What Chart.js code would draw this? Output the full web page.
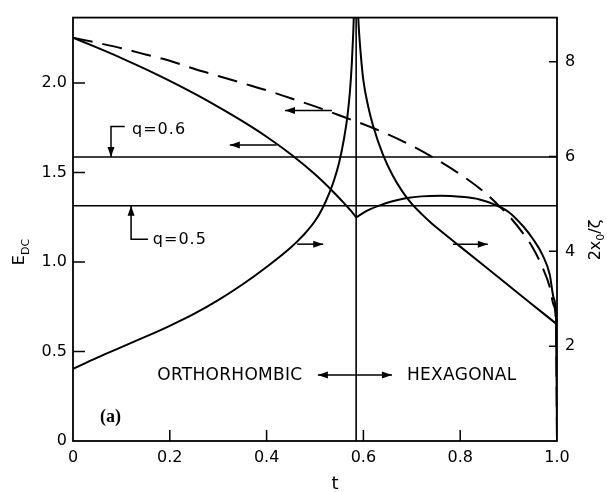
<!DOCTYPE html>
<html><head><meta charset="utf-8">
<script src="https://cdn.jsdelivr.net/npm/chart.js@4.4.1/dist/chart.umd.min.js"></script>
<style>html,body{margin:0;padding:0;background:#fff}#wrap{width:607px;height:492px}</style>
</head><body><div id="wrap"><canvas id="c" width="607" height="492"></canvas></div>
<script>
// ---- data ----
const tOrthE = [0, 0.05, 0.1, 0.15, 0.2, 0.25, 0.3, 0.35, 0.4, 0.45, 0.5, 0.54, 0.56, 0.575, 0.585];
const eOrth  = [2.254, 2.198, 2.14, 2.078, 2.012, 1.942, 1.867, 1.787, 1.70, 1.602, 1.49, 1.386, 1.329, 1.284, 1.25];
const tHexE  = [0.585, 0.61, 0.634, 0.66, 0.69, 0.72, 0.76, 0.8, 0.84, 0.87, 0.9, 0.93, 0.95, 0.97, 0.985, 0.993, 0.998, 1.0];
const eHex   = [1.25, 1.29, 1.317, 1.34, 1.358, 1.367, 1.37, 1.365, 1.35, 1.322, 1.28, 1.2, 1.13, 1.04, 0.93, 0.8, 0.68, 0];
const tDash  = [0, 0.05, 0.1, 0.15, 0.2, 0.25, 0.3, 0.35, 0.4, 0.45, 0.5, 0.55, 0.6, 0.65, 0.7, 0.75, 0.8, 0.85, 0.88, 0.9, 0.93, 0.95, 0.97, 0.985, 0.993, 0.998, 1.0];
const eDash  = [2.254, 2.225, 2.195, 2.16, 2.125, 2.08, 2.04, 2.0, 1.96, 1.915, 1.87, 1.82, 1.77, 1.715, 1.65, 1.575, 1.49, 1.39, 1.315, 1.26, 1.16, 1.08, 0.97, 0.86, 0.76, 0.66, 0];
const tOrthR = [0, 0.05, 0.1, 0.15, 0.2, 0.25, 0.3, 0.35, 0.4, 0.45, 0.475, 0.5, 0.515, 0.53, 0.54, 0.55, 0.56, 0.567, 0.572, 0.576, 0.579, 0.582];
const rOrth  = [1.52, 1.76, 1.98, 2.2, 2.43, 2.68, 2.97, 3.3, 3.67, 4.08, 4.33, 4.64, 4.9, 5.24, 5.52, 5.88, 6.38, 6.85, 7.35, 7.95, 8.6, 9.5];
const tHexR  = [0.587, 0.59, 0.595, 0.6, 0.61, 0.62, 0.64, 0.66, 0.68, 0.7, 0.72, 0.74, 0.76, 0.8, 0.85, 0.9, 0.95, 1.0];
const rHex   = [9.5, 8.8, 8.1, 7.6, 7.05, 6.65, 6.05, 5.61, 5.27, 5.0, 4.79, 4.6, 4.43, 4.1, 3.69, 3.28, 2.87, 2.46];
const tTransition = 0.585;
const qLevels = [1.587, 1.315];
const qLabels = ['q=0.6', 'q=0.5'];
const xTicks = [0, 0.2, 0.4, 0.6, 0.8, 1.0];
const xTickLabels = ['0', '0.2', '0.4', '0.6', '0.8', '1.0'];
const yTicks = [0, 0.5, 1.0, 1.5, 2.0];
const yTickLabels = ['0', '0.5', '1.0', '1.5', '2.0'];
const y2Ticks = [2, 4, 6, 8];
const y2TickLabels = ['2', '4', '6', '8'];
const phaseLabels = ['ORTHORHOMBIC', 'HEXAGONAL'];
const panelLabel = '(a)';
const xTitle = 't';

// ---- helpers ----
const pts = (xs, ys) => xs.map((x, i) => ({x: x, y: ys[i]}));
const FONT = '"DejaVu Sans", sans-serif';
const line = (data, axis, extra) => Object.assign({
  data: data, yAxisID: axis, borderColor: '#000', borderWidth: 2,
  pointRadius: 0, fill: false, cubicInterpolationMode: 'monotone'
}, extra || {});

const datasets = [
  line(pts(tOrthE, eOrth), 'y'),
  line(pts(tHexE, eHex), 'y'),
  line(pts(tDash, eDash), 'y', {borderDash: [20, 10]}),
  line(pts(tOrthR, rOrth), 'y2'),
  line(pts(tHexR, rHex), 'y2'),
  line([{x: tTransition, y: 0}, {x: tTransition, y: 2.366}], 'y', {borderWidth: 1.6, cubicInterpolationMode: 'default', tension: 0}),
  line([{x: 0, y: qLevels[0]}, {x: 1, y: qLevels[0]}], 'y', {borderWidth: 1.6, tension: 0}),
  line([{x: 0, y: qLevels[1]}, {x: 1, y: qLevels[1]}], 'y', {borderWidth: 1.6, tension: 0})
];

// annotation placement (data units)
const notes = {
  arrowsLeft: [
    {t1: 0.421, t2: 0.324, e: 1.654},
    {t1: 0.535, t2: 0.438, e: 1.847}
  ],
  arrowsRight: [
    {t1: 0.463, t2: 0.517, e: 1.10},
    {t1: 0.785, t2: 0.857, e: 1.10}
  ],
  q06: {tv: 0.0785, eTop: 1.757, tH: 0.107, tText: 0.122},
  q05: {tv: 0.120, eBot: 1.127, tH: 0.155, tText: 0.165},
  phase: {e: 0.369, tOrth: 0.174, tHex: 0.69, tA1: 0.506, tA2: 0.659},
  panel: {t: 0.056, e: 0.131}
};

function arrowHead(ctx, x1, y1, x2, y2, len, hw) {
  const a = Math.atan2(y2 - y1, x2 - x1);
  ctx.beginPath();
  ctx.moveTo(x2, y2);
  ctx.lineTo(x2 - len * Math.cos(a) + hw * Math.sin(a), y2 - len * Math.sin(a) - hw * Math.cos(a));
  ctx.lineTo(x2 - len * Math.cos(a) - hw * Math.sin(a), y2 - len * Math.sin(a) + hw * Math.cos(a));
  ctx.closePath();
  ctx.fill();
}
function arrow(ctx, x1, y1, x2, y2) {
  ctx.beginPath(); ctx.moveTo(x1, y1); ctx.lineTo(x2, y2); ctx.stroke();
  arrowHead(ctx, x1, y1, x2, y2, 10, 3.5);
}

const decor = {
  id: 'decor',
  afterDatasetsDraw(chart) {
    const ctx = chart.ctx, a = chart.chartArea;
    const X = chart.scales.x, Y = chart.scales.y, Y2 = chart.scales.y2;
    ctx.save();
    ctx.strokeStyle = '#000'; ctx.fillStyle = '#000';
    // frame
    ctx.lineWidth = 1.8;
    ctx.strokeRect(a.left, a.top, a.right - a.left, a.bottom - a.top);
    // inward ticks
    ctx.lineWidth = 1.5;
    ctx.beginPath();
    yTicks.forEach(v => { if (v > 0) { const p = Y.getPixelForValue(v); ctx.moveTo(a.left, p); ctx.lineTo(a.left + 12, p); } });
    xTicks.forEach(v => { if (v > 0 && v < 1) { const p = X.getPixelForValue(v); ctx.moveTo(p, a.bottom); ctx.lineTo(p, a.bottom - 11); } });
    y2Ticks.forEach(v => { const p = Y2.getPixelForValue(v); ctx.moveTo(a.right - 8, p); ctx.lineTo(a.right, p); });
    ctx.stroke();
    // arrows on curves
    ctx.lineWidth = 1.5;
    notes.arrowsLeft.concat(notes.arrowsRight).forEach(n => {
      const py = Y.getPixelForValue(n.e);
      arrow(ctx, X.getPixelForValue(n.t1), py, X.getPixelForValue(n.t2), py);
    });
    // q brackets
    ctx.font = '16px ' + FONT;
    ctx.textBaseline = 'middle'; ctx.textAlign = 'left';
    if ('letterSpacing' in ctx) ctx.letterSpacing = '1px';
    {
      const q = notes.q06;
      const xv = X.getPixelForValue(q.tv), yt = Y.getPixelForValue(q.eTop), yl = Y.getPixelForValue(qLevels[0]);
      ctx.beginPath(); ctx.moveTo(X.getPixelForValue(q.tH), yt); ctx.lineTo(xv, yt); ctx.lineTo(xv, yl); ctx.stroke();
      arrowHead(ctx, xv, yt, xv, yl, 10, 3.5);
      ctx.fillText(qLabels[0], X.getPixelForValue(q.tText), yt + 3);
    }
    {
      const q = notes.q05;
      const xv = X.getPixelForValue(q.tv), yb = Y.getPixelForValue(q.eBot), yl = Y.getPixelForValue(qLevels[1]);
      ctx.beginPath(); ctx.moveTo(X.getPixelForValue(q.tH), yb); ctx.lineTo(xv, yb); ctx.lineTo(xv, yl); ctx.stroke();
      arrowHead(ctx, xv, yb, xv, yl, 10, 3.5);
      ctx.fillText(qLabels[1], X.getPixelForValue(q.tText), yb + 1);
    }
    // phase labels
    ctx.font = '17px ' + FONT;
    if ('letterSpacing' in ctx) ctx.letterSpacing = '0.3px';
    const ph = notes.phase, py = Y.getPixelForValue(ph.e);
    ctx.fillText(phaseLabels[0], X.getPixelForValue(ph.tOrth), py + 1);
    ctx.fillText(phaseLabels[1], X.getPixelForValue(ph.tHex), py + 1);
    const xa1 = X.getPixelForValue(ph.tA1), xa2 = X.getPixelForValue(ph.tA2), xm = (xa1 + xa2) / 2;
    arrow(ctx, xm, py, xa1, py); arrow(ctx, xm, py, xa2, py);
    if ('letterSpacing' in ctx) ctx.letterSpacing = '0px';
    // panel label
    ctx.font = 'bold 18px "Liberation Serif", serif';
    ctx.fillText(panelLabel, X.getPixelForValue(notes.panel.t), Y.getPixelForValue(notes.panel.e));
    // x title
    ctx.font = '18px ' + FONT; ctx.textAlign = 'center';
    ctx.fillText(xTitle, 335, 484);
    // left title E_DC (rotated)
    ctx.save();
    ctx.translate(18, 252); ctx.rotate(-Math.PI / 2);
    ctx.textAlign = 'left'; ctx.textBaseline = 'alphabetic';
    ctx.font = '16px ' + FONT; const wE = ctx.measureText('E').width;
    ctx.font = '11px ' + FONT; const wD = ctx.measureText('DC').width;
    let sx = -(wE + wD) / 2;
    ctx.font = '16px ' + FONT; ctx.fillText('E', sx, 6);
    ctx.font = '11px ' + FONT; ctx.fillText('DC', sx + wE, 11);
    ctx.restore();
    // right title 2x0/ζ (rotated)
    ctx.save();
    ctx.translate(594, 240); ctx.rotate(-Math.PI / 2);
    ctx.textAlign = 'left'; ctx.textBaseline = 'alphabetic';
    ctx.font = '16px ' + FONT; const w1 = ctx.measureText('2x').width, w3 = ctx.measureText('/ζ').width;
    ctx.font = '11px ' + FONT; const w2 = ctx.measureText('0').width;
    sx = -(w1 + w2 + w3) / 2;
    ctx.font = '16px ' + FONT; ctx.fillText('2x', sx, 6);
    ctx.font = '11px ' + FONT; ctx.fillText('0', sx + w1, 10);
    ctx.font = '16px ' + FONT; ctx.fillText('/ζ', sx + w1 + w2, 6);
    ctx.restore();
    ctx.restore();
  }
};

new Chart(document.getElementById('c'), {
  type: 'line',
  data: {datasets: datasets},
  plugins: [decor],
  options: {
    responsive: false, animation: false, parsing: true,
    layout: {padding: {top: 13, left: 0, right: 0, bottom: 0}},
    plugins: {legend: {display: false}, tooltip: {enabled: false}},
    scales: {
      x: {
        type: 'linear', min: 0, max: 1,
        afterFit: s => { s.height = 51; },
        afterBuildTicks: s => { s.ticks = xTicks.map(v => ({value: v})); },
        grid: {display: false, drawTicks: false}, border: {display: false},
        ticks: {padding: 7, color: '#000', font: {family: FONT, size: 16}, maxRotation: 0,
          callback: (v, i) => xTickLabels[i]}
      },
      y: {
        type: 'linear', position: 'left', min: 0, max: 2.366,
        afterFit: s => { s.width = 73; },
        afterBuildTicks: s => { s.ticks = yTicks.map(v => ({value: v})); },
        grid: {display: false, drawTicks: false}, border: {display: false},
        ticks: {padding: 6, color: '#000', font: {family: FONT, size: 16},
          callback: (v, i) => yTickLabels[i]}
      },
      y2: {
        type: 'linear', position: 'right', min: 0, max: 8.93,
        afterFit: s => { s.width = 50; },
        afterBuildTicks: s => { s.ticks = y2Ticks.map(v => ({value: v})); },
        grid: {display: false, drawTicks: false}, border: {display: false},
        ticks: {padding: 8, color: '#000', font: {family: FONT, size: 16},
          callback: (v, i) => y2TickLabels[i]}
      }
    }
  }
});
</script>
</body></html>
